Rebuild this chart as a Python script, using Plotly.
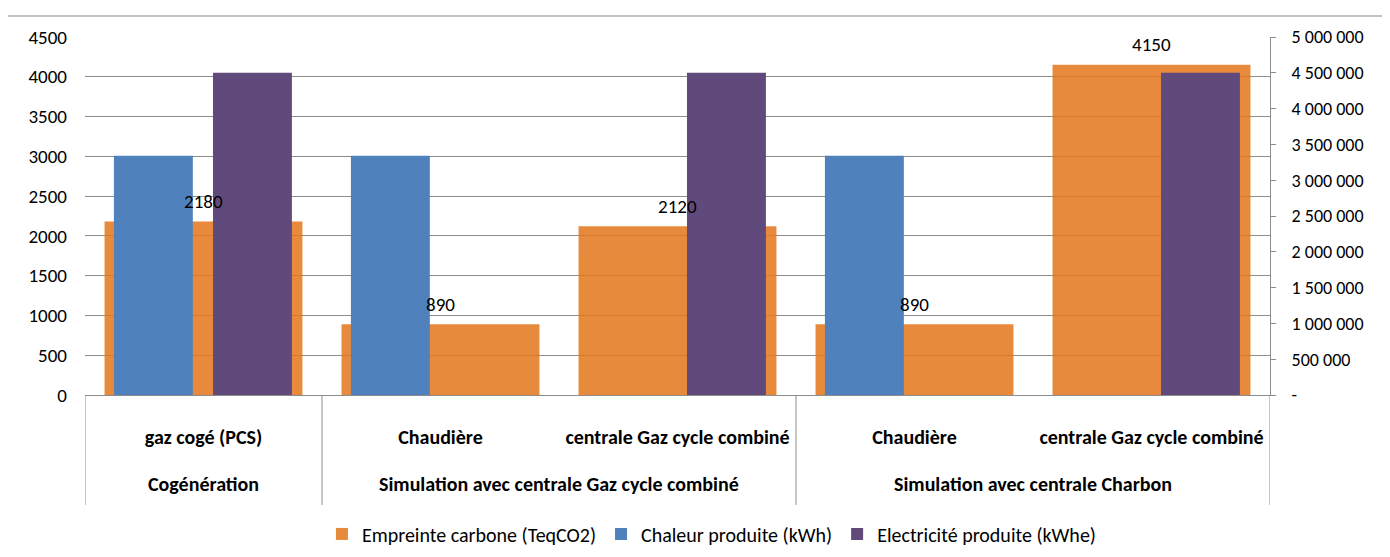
import plotly.graph_objects as go

# ---- data ----
groups = ["Cogénération",
          "Simulation avec centrale Gaz cycle combiné",
          "Simulation avec centrale Charbon"]
group_sizes = [1, 2, 2]
items = ["gaz cogé (PCS)", "Chaudière", "centrale Gaz cycle combiné",
         "Chaudière", "centrale Gaz cycle combiné"]
carbone = [2180, 890, 2120, 890, 4150]
chaleur = [3340000, 3340000, None, 3340000, None]
electricite = [4500000, None, 4500000, None, 4500000]

left_ticks = list(range(0, 4501, 500))
right_ticks = [0, 500000, 1000000, 1500000, 2000000, 2500000, 3000000,
               3500000, 4000000, 4500000, 5000000]
right_text = ["-", "500 000", "1 000 000", "1 500 000", "2 000 000", "2 500 000",
              "3 000 000", "3 500 000", "4 000 000", "4 500 000", "5 000 000"]

FONT = "Carlito, Lato, sans-serif"
FS_TXT = 20
FS_NUM = 19
GRID = "#8c8c8c"
xpos = list(range(len(items)))

fig = go.Figure()
fig.add_trace(go.Bar(
    x=xpos, y=carbone, name="Empreinte carbone (TeqCO2)",
    marker=dict(color="#E4761B", line=dict(width=0)), opacity=0.85,
    width=0.835, offset=-0.4175, yaxis="y"))
fig.add_trace(go.Bar(
    x=xpos, y=chaleur, name="Chaleur produite (kWh)",
    marker=dict(color="#4F81BD", line=dict(width=0)),
    width=0.333, offset=-0.378, yaxis="y2"))
fig.add_trace(go.Bar(
    x=xpos, y=electricite, name="Electricité produite (kWhe)",
    marker=dict(color="#604A7B", line=dict(width=0)),
    width=0.333, offset=0.04, yaxis="y2"))

for i, v in zip(xpos, carbone):
    fig.add_annotation(x=i, y=v, xref="x", yref="y", text=str(v),
                       showarrow=False, yshift=20,
                       font=dict(family=FONT, size=FS_NUM, color="black"))

# group labels and dividers
start = 0
bounds = [-0.5]
for g, n in zip(groups, group_sizes):
    center = start + (n - 1) / 2
    fig.add_annotation(x=center, y=-0.2486, xref="x", yref="paper", text=g,
                       showarrow=False, yanchor="middle",
                       font=dict(family=FONT, size=FS_TXT, color="black", weight="bold"))
    start += n
    bounds.append(start - 0.5)
for b in bounds:
    fig.add_shape(type="line", xref="x", yref="paper", x0=b, x1=b, y0=0, y1=-0.307,
                  line=dict(color=GRID, width=1))

# outer chart-area border (top and left visible)
fig.add_shape(type="rect", xref="paper", yref="paper",
              x0=-0.0655, x1=1.11, y0=-0.47, y1=1.0587,
              line=dict(color="#868686", width=1), fillcolor="rgba(0,0,0,0)",
              layer="below")

fig.update_layout(
    width=1382, height=549,
    margin=dict(l=77, r=120, t=29, b=162),
    paper_bgcolor="white", plot_bgcolor="white",
    barmode="overlay",
    font=dict(family=FONT, size=FS_TXT, color="black"),
    showlegend=True,
    legend=dict(orientation="h", xref="container", yref="container",
                x=0.509, xanchor="center", y=0.042, yanchor="middle",
                font=dict(family=FONT, size=FS_TXT), traceorder="normal"),
    xaxis=dict(range=[-0.5, 4.5], tickvals=xpos, ticktext=items,
               showline=True, linecolor=GRID, linewidth=1, ticks="",
               showgrid=False, zeroline=False, ticklabelstandoff=24,
               tickfont=dict(family=FONT, size=FS_TXT, weight="bold"), automargin=False),
    yaxis=dict(range=[0, 4500], tickvals=left_ticks, showgrid=True, gridcolor=GRID,
               gridwidth=1, showline=False, ticks="", zeroline=False,
               ticklabelstandoff=17, tickfont=dict(family=FONT, size=FS_NUM), automargin=False),
    yaxis2=dict(range=[0, 5000000], overlaying="y", side="right",
                tickvals=right_ticks, ticktext=right_text, showgrid=False,
                showline=True, linecolor=GRID, linewidth=1, ticks="outside",
                ticklen=5, tickcolor=GRID, zeroline=False, ticklabelstandoff=12,
                tickfont=dict(family=FONT, size=18), automargin=False),
)

fig.write_html("out.html")
